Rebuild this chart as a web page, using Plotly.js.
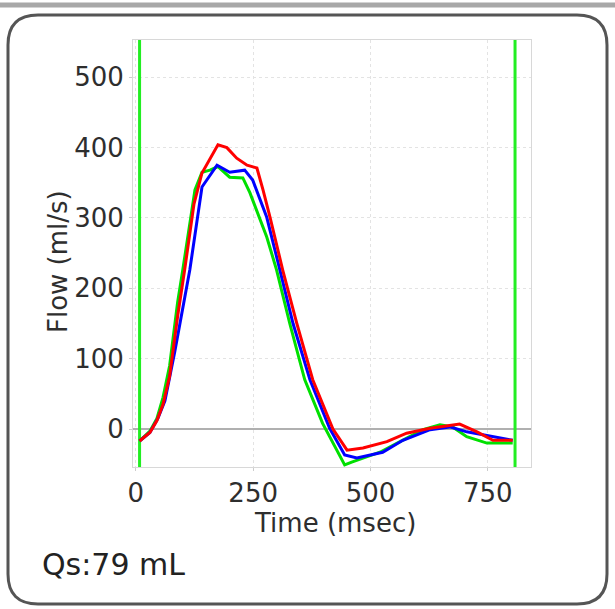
<!DOCTYPE html>
<html>
<head>
<meta charset="utf-8">
<script src="https://cdn.plot.ly/plotly-3.0.1.min.js"></script>
<style>
  html, body { margin: 0; padding: 0; background: #ffffff; }
  #chart { width: 615px; height: 609px; }
</style>
</head>
<body>
<div id="chart"></div>
<script>
// ---- data ----
const timeRed   = [8, 30, 45, 58, 72, 89, 104, 124, 141, 175, 194, 215, 237, 258, 271, 286, 313, 343, 377, 420, 450, 484, 535, 577, 627, 690, 727, 761, 803];
const flowRed   = [-17, -5, 12, 35, 75, 160, 226, 320, 364, 404, 400, 385, 375, 371, 340, 301, 226, 150, 70, 0, -30, -27, -18, -6, 1, 7, -4, -16, -16];

const timeBlue  = [8, 30, 47, 62, 83, 115, 141, 158, 173, 200, 232, 249, 279, 307, 335, 371, 413, 445, 471, 526, 569, 627, 669, 705, 761, 803];
const flowBlue  = [-17, -5, 15, 40, 110, 226, 344, 361, 375, 365, 368, 354, 301, 226, 150, 70, 1, -37, -41, -33, -16, -1, 3, -4, -11, -16];

const timeGreen = [8, 30, 45, 58, 72, 89, 100, 126, 141, 158, 175, 200, 228, 243, 279, 300, 328, 360, 398, 445, 460, 520, 563, 612, 648, 675, 705, 748, 803];
const flowGreen = [-17, -3, 15, 45, 90, 180, 226, 340, 365, 368, 373, 358, 357, 336, 273, 226, 150, 70, 8, -51, -47, -33, -18, -1, 6, 3, -11, -20, -20];

const cursorTimes = [8, 808];        // start / end markers (msec)
const cursorFlow  = [-54, 553];      // full height of the plot
const xTicks = [0, 250, 500, 750];
const yTicks = [0, 100, 200, 300, 400, 500];
const xTitle = 'Time (msec)';
const yTitle = 'Flow (ml/s)';
const noteText = 'Qs:79 mL';

// ---- layout geometry ----
const W = 615, H = 609;
const M = { l: 133, r: 84, t: 40, b: 142 };
const PW = W - M.l - M.r, PH = H - M.t - M.b;
const px = x => (x - M.l) / PW;          // pixel -> paper x
const py = y => (H - M.b - y) / PH;      // pixel -> paper y

function roundRect(x0, y0, x1, y1, r) {
  const X = v => px(v).toFixed(5), Y = v => py(v).toFixed(5);
  return 'M' + X(x0 + r) + ',' + Y(y0) +
    ' L' + X(x1 - r) + ',' + Y(y0) +
    ' Q' + X(x1) + ',' + Y(y0) + ' ' + X(x1) + ',' + Y(y0 + r) +
    ' L' + X(x1) + ',' + Y(y1 - r) +
    ' Q' + X(x1) + ',' + Y(y1) + ' ' + X(x1 - r) + ',' + Y(y1) +
    ' L' + X(x0 + r) + ',' + Y(y1) +
    ' Q' + X(x0) + ',' + Y(y1) + ' ' + X(x0) + ',' + Y(y1 - r) +
    ' L' + X(x0) + ',' + Y(y0 + r) +
    ' Q' + X(x0) + ',' + Y(y0) + ' ' + X(x0 + r) + ',' + Y(y0) + ' Z';
}

const traces = [];
cursorTimes.forEach(t => {
  traces.push({
    x: [t, t], y: cursorFlow, mode: 'lines', type: 'scatter',
    line: { color: '#22ee22', width: 3 }, hoverinfo: 'skip', showlegend: false
  });
});
traces.push({ x: timeGreen, y: flowGreen, mode: 'lines', type: 'scatter',
  line: { color: '#00e000', width: 3 }, showlegend: false });
traces.push({ x: timeBlue, y: flowBlue, mode: 'lines', type: 'scatter',
  line: { color: '#0000ff', width: 3 }, showlegend: false });
traces.push({ x: timeRed, y: flowRed, mode: 'lines', type: 'scatter',
  line: { color: '#ff0000', width: 3 }, showlegend: false });

const font = { family: 'DejaVu Sans, sans-serif', color: '#2e2e2e', size: 26 };

const layout = {
  width: W, height: H,
  margin: M,
  paper_bgcolor: '#ffffff', plot_bgcolor: '#ffffff',
  font: font,
  xaxis: {
    range: [-6, 842], tickvals: xTicks, ticktext: xTicks.map(String),
    showgrid: true, gridcolor: '#e3e3e3', griddash: 'dot', gridwidth: 1,
    zeroline: false, showline: true, linecolor: '#d8d8d8', linewidth: 1, mirror: true,
    ticks: 'outside', ticklen: 3, tickcolor: '#cccccc',
    tickfont: font,
    automargin: false, fixedrange: true
  },
  yaxis: {
    range: [-54, 553], tickvals: yTicks, ticktext: yTicks.map(String),
    showgrid: true, gridcolor: '#e3e3e3', griddash: 'dot', gridwidth: 1,
    zeroline: true, zerolinecolor: '#b0b0b0', zerolinewidth: 1.5,
    showline: true, linecolor: '#d8d8d8', linewidth: 1, mirror: true,
    ticks: 'outside', ticklen: 3, tickcolor: '#cccccc',
    tickfont: font,
    automargin: false, fixedrange: true
  },
  shapes: [
    { type: 'line', xref: 'paper', yref: 'paper', x0: px(0), x1: px(W), y0: py(5), y1: py(5),
      line: { color: '#a8a8a8', width: 5 } },
    { type: 'path', xref: 'paper', yref: 'paper', path: roundRect(8, 15, 607, 604, 30),
      line: { color: '#555555', width: 3 }, fillcolor: 'rgba(0,0,0,0)', layer: 'below' }
  ],
  annotations: [
    { xref: 'paper', yref: 'paper', x: px(335), y: py(523), xanchor: 'center', yanchor: 'middle',
      text: xTitle, showarrow: false, font: font },
    { xref: 'paper', yref: 'paper', x: px(58), y: py(262), xanchor: 'center', yanchor: 'middle',
      text: yTitle, textangle: -90, showarrow: false, font: font },
    { xref: 'paper', yref: 'paper', x: px(40), y: py(564), xanchor: 'left', yanchor: 'middle',
      text: noteText, showarrow: false,
      font: { family: 'DejaVu Sans, sans-serif', size: 30, color: '#222222' } }
  ]
};

Plotly.newPlot('chart', traces, layout, { staticPlot: true, displayModeBar: false });
</script>
</body>
</html>
